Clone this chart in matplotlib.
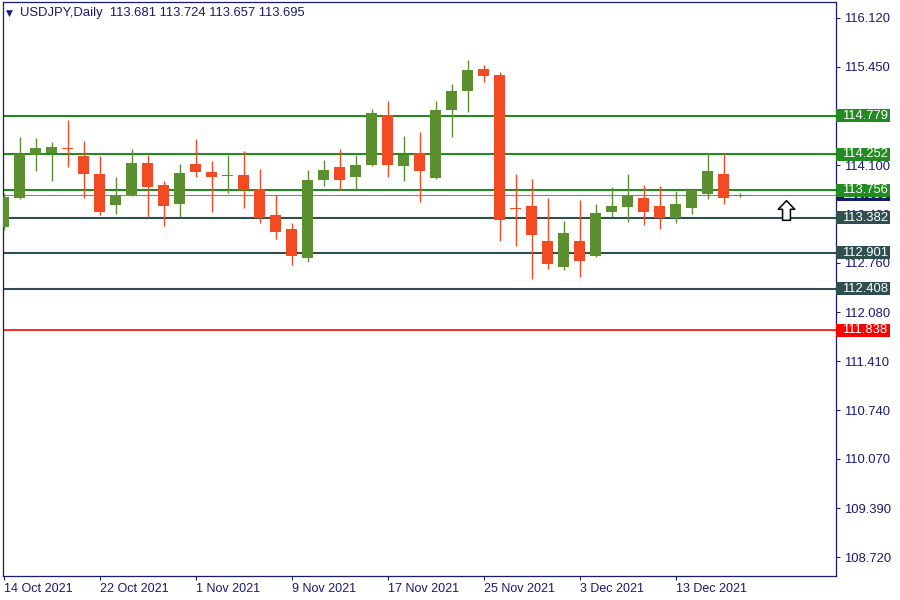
"""USDJPY daily candles, 14 Oct - 17 Dec 2021, with support/resistance levels
drawn in the MT4 chart style."""
import numpy as np, pandas as pd
import matplotlib
matplotlib.use("Agg")
import matplotlib.pyplot as plt
from matplotlib.patches import Rectangle
from matplotlib.path import Path
import matplotlib.transforms as mtrans

dates = pd.bdate_range("2021-10-14", "2021-12-17")
opens = [113.249, 113.648, 114.240, 114.267, 114.330, 114.222, 113.974, 113.552, 113.689, 114.126,
         113.823, 113.566, 114.112, 114.002, 113.945, 113.960, 113.772, 113.410, 113.218, 112.823,
         113.896, 114.070, 113.937, 114.102, 114.786, 114.088, 114.263, 113.923, 114.855, 115.116,
         115.418, 115.336, 113.510, 113.534, 113.053, 112.699, 113.066, 112.850, 113.451, 113.520,
         113.644, 113.534, 113.369, 113.507, 113.699, 113.974, 113.681]
highs = [113.722, 114.483, 114.469, 114.414, 114.717, 114.428, 114.222, 113.933, 114.318, 114.236,
         113.878, 114.112, 114.456, 114.153, 114.236, 114.291, 114.043, 113.689, 113.300, 114.029,
         114.167, 114.318, 114.236, 114.868, 114.978, 114.497, 114.552, 114.978, 115.212, 115.542,
         115.474, 115.377, 113.974, 113.905, 113.644, 113.341, 113.617, 113.562, 113.795, 113.974,
         113.823, 113.809, 113.740, 113.768, 114.263, 114.263, 113.724]
lows = [113.208, 113.630, 114.020, 113.882, 114.075, 113.644, 113.414, 113.428, 113.676, 113.387,
        113.263, 113.396, 113.937, 113.456, 113.717, 113.507, 113.304, 113.084, 112.727, 112.768,
        113.813, 113.758, 113.758, 114.090, 113.937, 113.882, 113.593, 113.910, 114.483, 114.827,
        115.240, 113.057, 112.988, 112.534, 112.672, 112.658, 112.562, 112.837, 113.396, 113.314,
        113.273, 113.218, 113.300, 113.424, 113.630, 113.562, 113.657]
closes = [113.658, 114.253, 114.332, 114.346, 114.320, 113.974, 113.451, 113.689, 114.126, 113.800,
          113.538, 113.988, 114.006, 113.937, 113.956, 113.758, 113.369, 113.181, 112.850, 113.892,
          114.029, 113.896, 114.098, 114.813, 114.102, 114.236, 114.020, 114.855, 115.116, 115.405,
          115.322, 113.346, 113.500, 113.139, 112.740, 113.163, 112.782, 113.438, 113.534, 113.689,
          113.451, 113.369, 113.562, 113.754, 114.015, 113.644, 113.695]

levels = [114.779, 114.252, 113.756, 113.382, 112.901, 112.408, 111.838]
level_colors = ["#228b22", "#228b22", "#228b22", "#2f4f4f", "#2f4f4f", "#2f4f4f", "#ff0000"]
price_ticks = [116.120, 115.450, 114.100, 113.430, 112.760, 112.080,
               111.410, 110.740, 110.070, 109.390, 108.720]
date_tick_step = 6
signal_bar, signal_price = 48.9, 113.488

NAVY = "#191970"; UP = "#5b8f2f"; DN = "#f24b24"
FONT = ["Liberation Sans", "DejaVu Sans"]

plt.rcParams.update({"font.family": FONT, "font.size": 9.4})
fig = plt.figure(figsize=(9, 6), dpi=100)
ax = fig.add_axes([2.7 / 900, 24.3 / 600, 833.3 / 900, 573.3 / 600])
ax.set_xlim(-0.05, 52.03); ax.set_ylim(108.467, 116.334)

o, h, l, c = map(np.array, (opens, highs, lows, closes))
x = np.arange(len(o))
col = np.where(c >= o, UP, DN)
ax.vlines(x, l, h, colors=col, lw=1.0, zorder=3)
ax.bar(x, np.maximum(np.abs(c - o), 0.014), bottom=np.minimum(o, c), width=0.6875,
       color=col, lw=0, zorder=4)

# levels + bid line
for lv, lc in zip(levels, level_colors):
    ax.axhline(lv, color=lc, lw=1.5 if lc != "#ff0000" else 1.2, zorder=2)
ax.axhline(closes[-1], color="#778899", lw=0.8, zorder=2)

# price tags on the right edge (bid tag sits underneath)
tr = mtrans.blended_transform_factory(ax.transAxes, ax.transData)
bh = 13 / 72.84
for lv, lc, z in [(closes[-1], NAVY, 6)] + [(v, k, 7) for v, k in zip(levels, level_colors)]:
    ax.add_patch(Rectangle((1.0005, lv - bh / 2), 54 / 833.3, bh, transform=tr, fc=lc, ec="none",
                           clip_on=False, zorder=z))
    ax.text(1 + 6 / 833.3, lv, f"{lv:.3f}", transform=tr, color="white", ha="left", va="center",
            clip_on=False, zorder=z + 0.5)

# buy arrow
verts = [(0, 0.5), (0.42, 0.06), (0.2, 0.06), (0.2, -0.5), (-0.2, -0.5), (-0.2, 0.06),
         (-0.42, 0.06), (0, 0.5)]
arrow = Path(verts, [Path.MOVETO] + [Path.LINETO] * 6 + [Path.CLOSEPOLY])
ax.scatter([signal_bar], [signal_price], marker=arrow, s=200, fc="white", ec="black", lw=1.1, zorder=5)

ax.yaxis.tick_right()
ax.set_yticks(price_ticks, [f"{t:.3f}" for t in price_ticks])
tick_idx = x[::date_tick_step]
ax.set_xticks(tick_idx, [f"{d.day} {d:%b %Y}" for d in dates[tick_idx]], ha="left")
ax.tick_params(colors=NAVY, labelcolor=NAVY, length=3, width=0.75, pad=3)
ax.tick_params(axis="x", pad=2, labelsize=9)
for s in ax.spines.values():
    s.set_color(NAVY); s.set_linewidth(0.9)

fig.text(6 / 900, 1 - 13 / 600, "\u25bc", color=NAVY, fontsize=6.5, va="center",
         family=["DejaVu Sans"])
fig.text(20 / 900, 1 - 13 / 600, "USDJPY,Daily  " + " ".join(f"{v:.3f}" for v in
         (opens[-1], highs[-1], lows[-1], closes[-1])), color=NAVY, va="center")

fig.savefig("out.png", dpi=100)
